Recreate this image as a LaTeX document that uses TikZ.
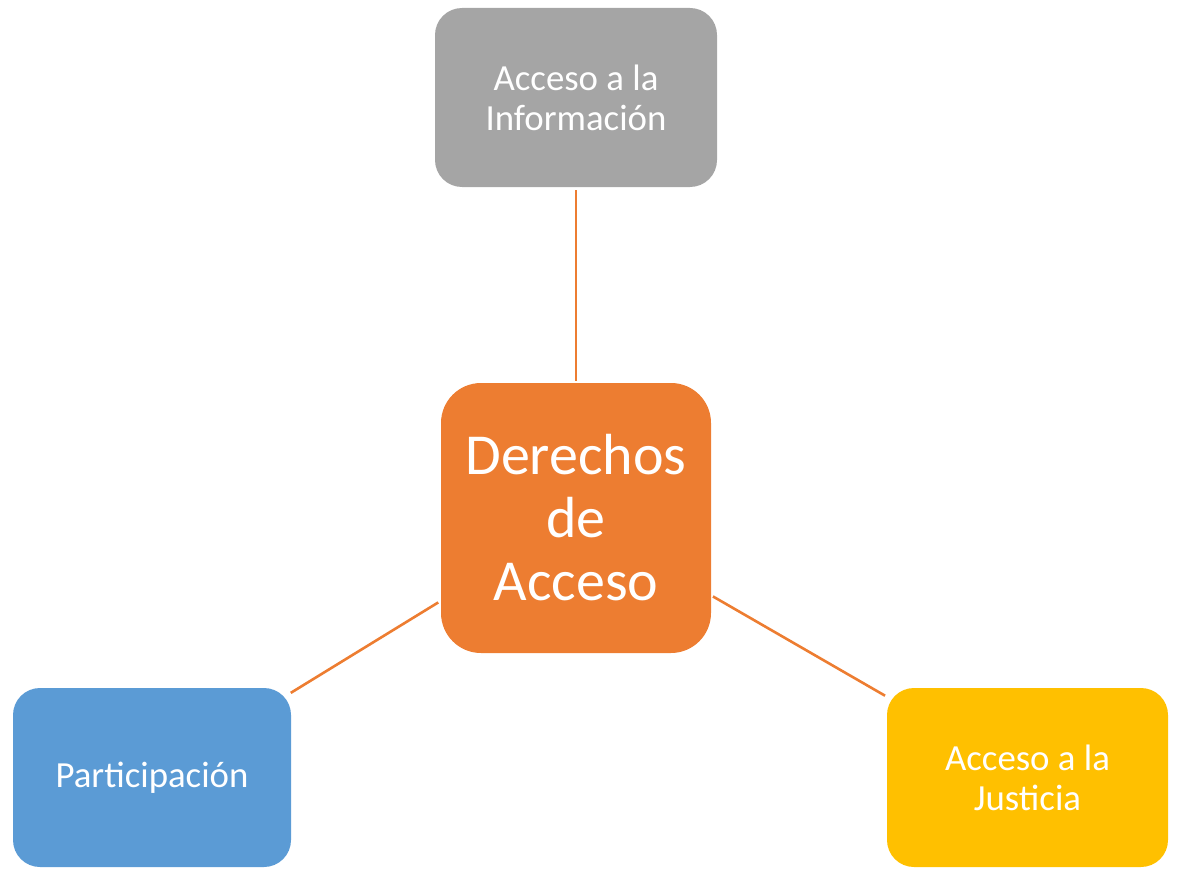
\documentclass[tikz,border=0pt]{standalone}
\usepackage{fontspec}
\setmainfont{Carlito}
\definecolor{cgray}{HTML}{A5A5A5}
\definecolor{corange}{HTML}{ED7D31}
\definecolor{cblue}{HTML}{5B9BD5}
\definecolor{cyellow}{HTML}{FFC000}
\begin{document}
\begin{tikzpicture}[x=1pt,y=-1pt,
  box/.style={rounded corners=27pt, minimum width=280pt, minimum height=179pt,
    inner sep=0pt, align=center, text=white,
    font=\fontsize{36.8}{40}\selectfont},
  link/.style={draw=corange, line width=2.6pt}]
\useasboundingbox (0,0) rectangle (1178,872);
\node[box, fill=cgray, minimum width=282pt] (info) at (576,97.5) {Acceso a la\\Información};
\node[box, fill=corange, minimum width=270pt, minimum height=270pt, rounded corners=40pt,
  font=\fontsize{58}{63}\selectfont] (center) at (576,518) {Derechos\\de\\Acceso};
\node[box, fill=cblue, minimum width=278pt] (part) at (152,777.5) {Participación};
\node[box, fill=cyellow, minimum width=281pt] (just) at (1027.5,777.5) {Acceso a la\\Justicia};
\draw[link, shorten <=3pt, shorten >=2pt] (info) -- (center);
\draw[link, shorten <=3pt, shorten >=-0.5pt] (center) -- (part);
\draw[link, shorten <=2pt, shorten >=2pt] (center) -- (just);
\end{tikzpicture}
\end{document}
